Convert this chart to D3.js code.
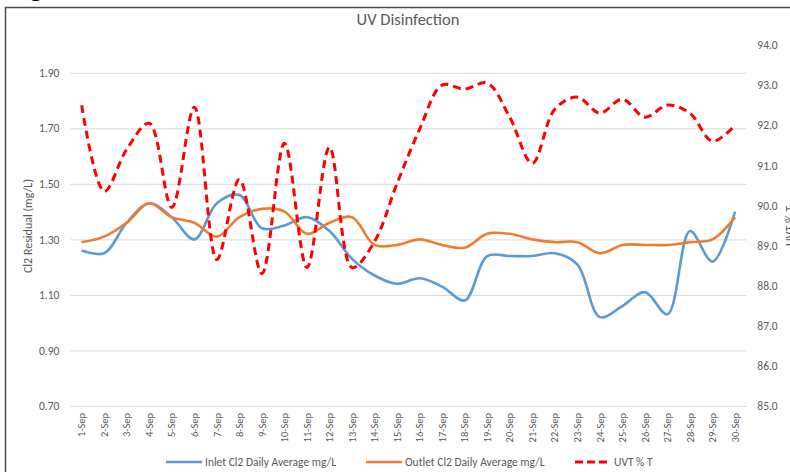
<!DOCTYPE html>
<html>
<head>
<meta charset="utf-8">
<script src="https://cdn.jsdelivr.net/npm/d3@7"></script>
<style>
  html, body { margin: 0; padding: 0; background: #fff; }
  svg { display: block; font-family: Carlito, Calibri, Lato, sans-serif; }
</style>
</head>
<body>
<svg id="chart" width="790" height="472"></svg>
<script>
const categories = ["1-Sep","2-Sep","3-Sep","4-Sep","5-Sep","6-Sep","7-Sep","8-Sep","9-Sep","10-Sep",
  "11-Sep","12-Sep","13-Sep","14-Sep","15-Sep","16-Sep","17-Sep","18-Sep","19-Sep","20-Sep",
  "21-Sep","22-Sep","23-Sep","24-Sep","25-Sep","26-Sep","27-Sep","28-Sep","29-Sep","30-Sep"];

const inletCl2 = [1.26, 1.25, 1.36, 1.43, 1.38, 1.30, 1.43, 1.46, 1.34, 1.35,
  1.38, 1.33, 1.23, 1.17, 1.14, 1.16, 1.13, 1.08, 1.24, 1.24,
  1.24, 1.25, 1.21, 1.02, 1.06, 1.11, 1.03, 1.33, 1.22, 1.40];

const outletCl2 = [1.29, 1.31, 1.36, 1.43, 1.38, 1.36, 1.31, 1.38, 1.41, 1.40,
  1.32, 1.36, 1.38, 1.28, 1.28, 1.30, 1.28, 1.27, 1.32, 1.32,
  1.30, 1.29, 1.29, 1.25, 1.28, 1.28, 1.28, 1.29, 1.30, 1.38];

const uvt = [92.5, 90.35, 91.4, 92.05, 89.95, 92.45, 88.65, 90.65, 88.3, 91.55,
  88.45, 91.45, 88.45, 89.1, 90.55, 91.9, 93.0, 92.9, 93.05, 92.2,
  91.05, 92.4, 92.7, 92.3, 92.65, 92.2, 92.5, 92.3, 91.6, 92.0];

const leftTicks = [0.70, 0.90, 1.10, 1.30, 1.50, 1.70, 1.90];
const rightTicks = [85, 86, 87, 88, 89, 90, 91, 92, 93, 94];

const seriesNames = ["Inlet Cl2 Daily Average mg/L", "Outlet Cl2 Daily Average mg/L", "UVT % T"];
const chartTitle = "UV Disinfection";
const leftTitle = "Cl2 Residual (mg/L)";
const rightTitle = "UVT % T";

const colors = ["#5B9BD5", "#ED7D31", "#FF0000"];
const textColor = "#595959";

const svg = d3.select("#chart");

// frame fragments (cropped figure)
svg.append("line").attr("x1", 5).attr("x2", 790).attr("y1", 7.5).attr("y2", 7.5)
  .attr("stroke", "#4a4a4a").attr("stroke-width", 1.5);
svg.append("line").attr("x1", 5.5).attr("x2", 5.5).attr("y1", 7).attr("y2", 472)
  .attr("stroke", "#4a4a4a").attr("stroke-width", 1.5);
svg.append("text").attr("x", 28).attr("y", -4).attr("font-size", 26).attr("font-weight", "bold")
  .attr("fill", "#000").style("font-family", "Liberation Sans, sans-serif").text("g");

const plotLeft = 70.4, plotRight = 746.3, plotTop = 45, plotBottom = 406;

const x = d3.scaleBand().domain(categories).range([plotLeft, plotRight]).padding(0);
const cx = d => x(d) + x.bandwidth() / 2;
const yL = d3.scaleLinear().domain([0.7, 2.0]).range([plotBottom, plotTop]);
const yR = d3.scaleLinear().domain([85, 94]).range([plotBottom, plotTop]);

// Title
svg.append("text").attr("x", 408).attr("y", 25).attr("text-anchor", "middle")
  .attr("font-size", 16.5).attr("fill", textColor).text(chartTitle);

// Left axis with gridlines
const gL = svg.append("g").attr("transform", `translate(${plotLeft},0)`)
  .call(d3.axisLeft(yL).tickValues(leftTicks).tickFormat(d3.format(".2f"))
    .tickSize(-(plotRight - plotLeft)).tickPadding(11));
gL.select(".domain").remove();
gL.selectAll("line").attr("stroke", "#d9d9d9").attr("stroke-width", 1);
gL.selectAll("text").attr("fill", textColor).attr("font-size", 11.5)
  .style("font-family", "Carlito, Calibri, Lato, sans-serif");

// Right axis
const gR = svg.append("g").attr("transform", `translate(${plotRight},0)`)
  .call(d3.axisRight(yR).tickValues(rightTicks).tickFormat(d3.format(".1f"))
    .tickSize(0).tickPadding(11));
gR.select(".domain").remove();
gR.selectAll("text").attr("fill", textColor).attr("font-size", 11.5)
  .style("font-family", "Carlito, Calibri, Lato, sans-serif");

// X axis
const gX = svg.append("g").attr("transform", `translate(0,${plotBottom})`)
  .call(d3.axisBottom(x).tickSize(0));
gX.select(".domain").remove();
gX.selectAll("text").attr("transform", "rotate(-90)").attr("x", -7).attr("y", 0)
  .attr("dy", "0.35em").style("text-anchor", "end").attr("fill", textColor)
  .attr("font-size", 10.5).style("font-family", "Carlito, Calibri, Lato, sans-serif");

// Axis titles
svg.append("text").attr("transform", "translate(32,226) rotate(-90)")
  .attr("text-anchor", "middle").attr("font-size", 12).attr("fill", textColor).text(leftTitle);
svg.append("text").attr("transform", "translate(794,226) rotate(-90)")
  .attr("text-anchor", "middle").attr("font-size", 12).attr("fill", textColor).text(rightTitle);

// Lines
const lineL = d3.line().x((d, i) => cx(categories[i])).y(d => yL(d)).curve(d3.curveCatmullRom.alpha(0.5));
const lineR = d3.line().x((d, i) => cx(categories[i])).y(d => yR(d)).curve(d3.curveCatmullRom.alpha(0.5));

svg.append("path").datum(inletCl2).attr("d", lineL).attr("fill", "none")
  .attr("stroke", colors[0]).attr("stroke-width", 2.6).attr("stroke-linejoin", "round");
svg.append("path").datum(outletCl2).attr("d", lineL).attr("fill", "none")
  .attr("stroke", colors[1]).attr("stroke-width", 2.6).attr("stroke-linejoin", "round");
svg.append("path").datum(uvt).attr("d", lineR).attr("fill", "none")
  .attr("stroke", colors[2]).attr("stroke-width", 3).attr("stroke-dasharray", "8,5");

// Legend
const legendItems = [
  {x: 166, name: seriesNames[0], color: colors[0], dash: null},
  {x: 366, name: seriesNames[1], color: colors[1], dash: null},
  {x: 575, name: seriesNames[2], color: colors[2], dash: "8,4"}
];
const lg = svg.append("g").attr("transform", "translate(0,462)");
legendItems.forEach(it => {
  lg.append("line").attr("x1", it.x).attr("x2", it.x + 36).attr("y1", 0).attr("y2", 0)
    .attr("stroke", it.color).attr("stroke-width", it.dash ? 3 : 2.6)
    .attr("stroke-dasharray", it.dash);
  lg.append("text").attr("x", it.x + 39).attr("y", 0).attr("dy", "0.35em")
    .attr("font-size", 11.5).attr("fill", textColor).text(it.name);
});
</script>
</body>
</html>
